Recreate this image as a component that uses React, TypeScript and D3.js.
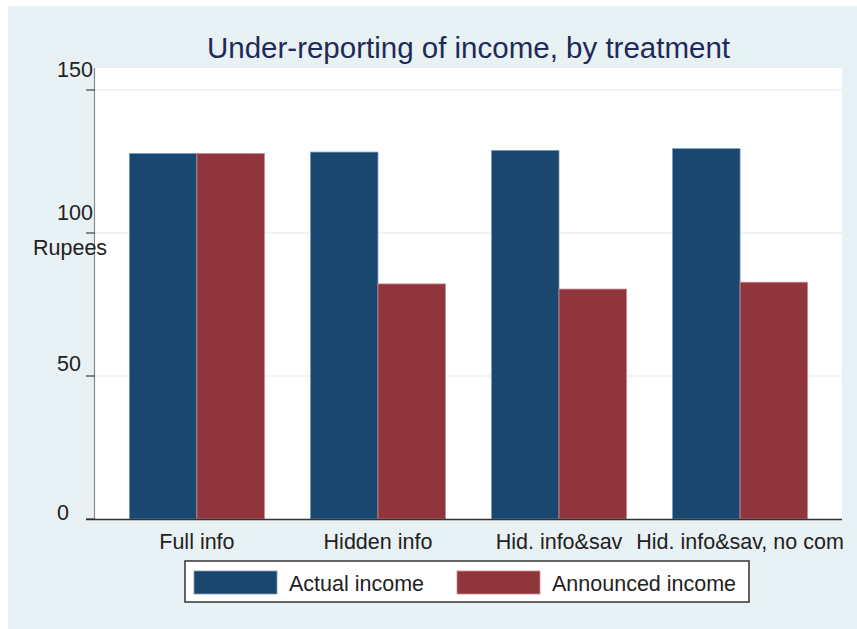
import React from "react";
import * as d3 from "d3";

const categories = ["Full info", "Hidden info", "Hid. info&sav", "Hid. info&sav, no com"];
const seriesNames = ["Actual income", "Announced income"];
const actualIncome = [127.8, 128.3, 128.9, 129.5];
const announcedIncome = [127.8, 82.2, 80.4, 82.8];
const yTicks = [0, 50, 100, 150];
const titleText = "Under-reporting of income, by treatment";
const yTitle = "Rupees";

const W = 857;
const H = 629;
const plot = { left: 95, right: 842, top: 68, bottom: 519 };
const colors = ["#1a476f", "#90353b"];
const strokes = ["#7f9bb5", "#c98a8e"];
const labelLift = [-1, 5, 13, 13];
const font = "'Liberation Sans', Arial, sans-serif";

export default function App() {
  const y = d3.scaleLinear().domain([0, 150]).range([plot.bottom, 90]);
  const x0 = d3
    .scaleBand<string>()
    .domain(categories)
    .range([plot.left, plot.right])
    .paddingInner(0.254)
    .paddingOuter(0.19);
  const x1 = d3.scaleBand<string>().domain(seriesNames).range([0, x0.bandwidth()]);
  const series = [actualIncome, announcedIncome];

  const legendX = [194, 457];

  return (
    <svg width={W} height={H} style={{ display: "block", position: "absolute", left: 0, top: 0 }}>
      <rect x={0} y={0} width={W} height={H} fill="#ffffff" />
      <rect x={8} y={6} width={W - 8} height={H - 6} fill="#e8f1f3" />
      <rect
        x={plot.left}
        y={plot.top}
        width={plot.right - plot.left}
        height={plot.bottom - plot.top}
        fill="#ffffff"
      />
      {yTicks.slice(1).map((t) => (
        <line
          key={"g" + t}
          x1={plot.left}
          x2={plot.right}
          y1={y(t)}
          y2={y(t)}
          stroke="#eaf1f4"
          strokeWidth={1.5}
        />
      ))}
      {series.map((vals, si) =>
        categories.map((c, ci) => (
          <rect
            key={si + "-" + ci}
            x={(x0(c) as number) + (x1(seriesNames[si]) as number)}
            y={y(vals[ci])}
            width={x1.bandwidth()}
            height={y(0) - y(vals[ci])}
            fill={colors[si]}
            stroke={strokes[si]}
            strokeWidth={0.8}
          />
        ))
      )}
      {/* y axis */}
      <line x1={94.5} x2={94.5} y1={plot.top} y2={plot.bottom} stroke="#8a8a8a" strokeWidth={1.2} />
      {yTicks.map((t, i) => (
        <g key={"t" + t}>
          <line x1={86} x2={95} y1={y(t)} y2={y(t)} stroke="#444" strokeWidth={1.2} />
          <text
            x={57}
            y={y(t) - labelLift[i]}
            fontFamily={font}
            fontSize={21.5}
            fill="#222"
          >
            {t}
          </text>
        </g>
      ))}
      <text x={33} y={255} fontFamily={font} fontSize={21.5} fill="#222">
        {yTitle}
      </text>
      {/* x axis */}
      <line x1={86} x2={plot.right} y1={519.5} y2={519.5} stroke="#333" strokeWidth={1.6} />
      {categories.map((c) => (
        <text
          key={"c" + c}
          x={(x0(c) as number) + x0.bandwidth() / 2}
          y={549}
          textAnchor="middle"
          fontFamily={font}
          fontSize={21.5}
          fill="#222"
        >
          {c}
        </text>
      ))}
      {/* title */}
      <text
        x={(plot.left + plot.right) / 2}
        y={58}
        textAnchor="middle"
        fontFamily={font}
        fontSize={29.5}
        fill="#1e2b58"
      >
        {titleText}
      </text>
      {/* legend */}
      <rect x={185} y={561} width={564} height={41} fill="#ffffff" stroke="#333" strokeWidth={1.5} />
      {seriesNames.map((s, i) => (
        <g key={"l" + s}>
          <rect
            x={legendX[i]}
            y={571}
            width={83}
            height={23}
            fill={colors[i]}
            stroke={strokes[i]}
            strokeWidth={0.8}
          />
          <text x={legendX[i] + 95} y={591} fontFamily={font} fontSize={21.5} fill="#222">
            {s}
          </text>
        </g>
      ))}
    </svg>
  );
}
